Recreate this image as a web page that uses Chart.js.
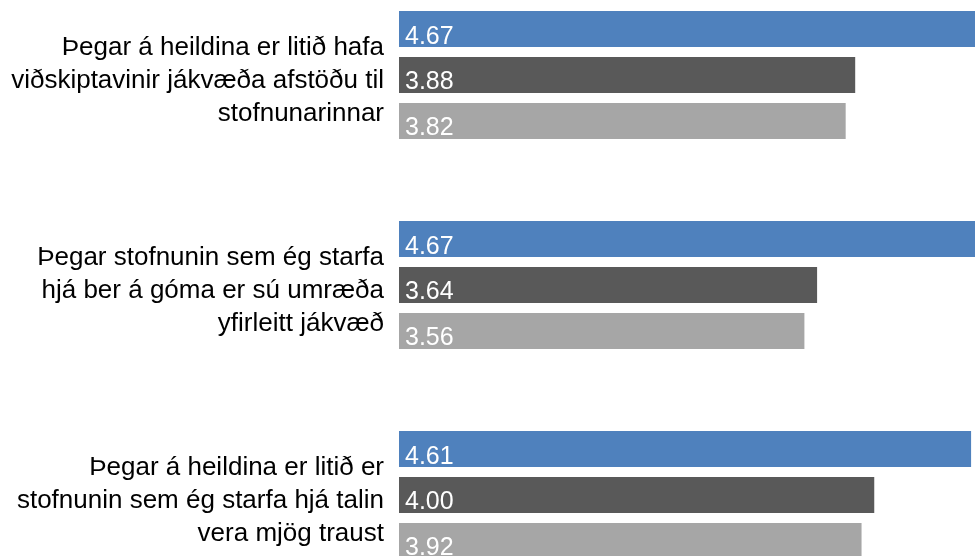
<!DOCTYPE html>
<html>
<head>
<meta charset="utf-8">
<script src="https://cdn.jsdelivr.net/npm/chart.js@4"></script>
<style>
    html, body { margin: 0; padding: 0; background: #fff; overflow: hidden; width: 975px; height: 556px; }
    #chart { position: absolute; left: 0; top: -30px; }
</style>
</head>
<body>
<canvas id="chart" width="1034" height="630"></canvas>
<script>
const categories = [
    ['Þegar á heildina er litið hafa', 'viðskiptavinir jákvæða afstöðu til', 'stofnunarinnar'],
    ['Þegar stofnunin sem ég starfa', 'hjá ber á góma er sú umræða', 'yfirleitt jákvæð'],
    ['Þegar á heildina er litið er', 'stofnunin sem ég starfa hjá talin', 'vera mjög traust'],
];
const seriesA = [4.67, 4.67, 4.61];
const seriesB = [3.88, 3.64, 4.00];
const seriesC = [3.82, 3.56, 3.92];
const seriesColors = ['#4F81BD', '#595959', '#A6A6A6'];

// white value labels drawn inside each bar, near its bottom-left corner
const valueLabels = {
    id: 'valueLabels',
    afterDatasetsDraw(chart) {
        const ctx = chart.ctx;
        const left = chart.chartArea.left;
        ctx.save();
        ctx.font = '25px "Liberation Sans", Arial, sans-serif';
        ctx.fillStyle = '#ffffff';
        ctx.textAlign = 'left';
        ctx.textBaseline = 'alphabetic';
        chart.data.datasets.forEach(function (ds, i) {
            chart.getDatasetMeta(i).data.forEach(function (bar, j) {
                ctx.fillText(ds.data[j].toFixed(2), left + 6, bar.y + bar.height / 2 - 4.5);
            });
        });
        ctx.restore();
    }
};

let chartDatasets = [seriesA, seriesB, seriesC].map(function (values, index) {
    return {
        data: values,
        backgroundColor: seriesColors[index],
        borderColor: 'rgba(255,255,255,0.5)',
        borderWidth: 1,
        borderSkipped: false,
        categoryPercentage: 0.657,
        barPercentage: 0.826,
    };
});

new Chart(document.getElementById('chart'), {
    type: 'bar',
    data: {
        labels: categories,
        datasets: chartDatasets,
    },
    options: {
        indexAxis: 'y',
        responsive: false,
        maintainAspectRatio: false,
        animation: false,
        layout: { padding: 0, autoPadding: false },
        plugins: {
            legend: { display: false },
            tooltip: { enabled: false },
        },
        scales: {
            x: {
                display: false,
                min: 1,
                max: 5,
            },
            y: {
                grid: { display: false },
                border: { display: false },
                ticks: {
                    color: '#000000',
                    padding: 7,
                    labelOffset: 6,
                    font: { family: '"Liberation Sans", Arial, sans-serif', size: 26, lineHeight: 1.26 },
                },
                afterFit: function (scale) {
                    scale.width = 399;
                    scale.paddingTop = 0;
                    scale.paddingBottom = 0;
                },
            },
        },
    },
    plugins: [valueLabels],
});
</script>
</body>
</html>
